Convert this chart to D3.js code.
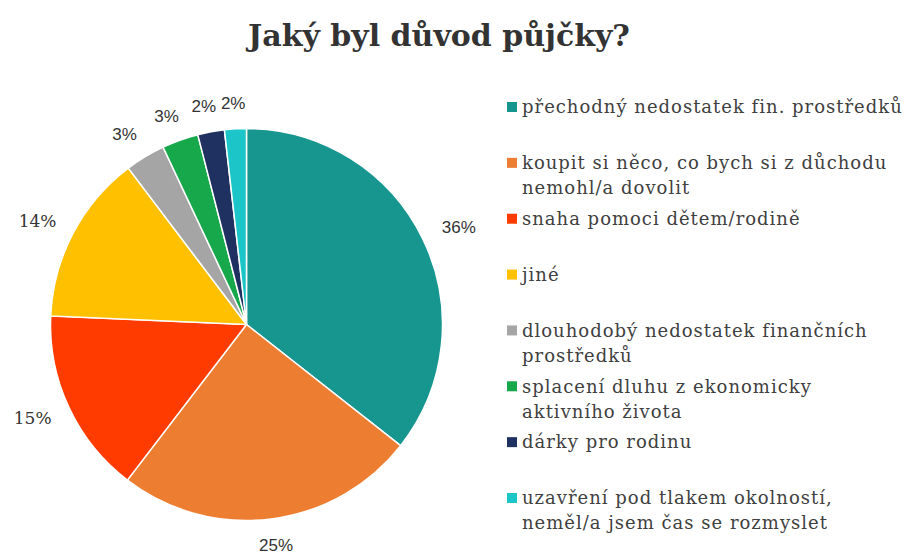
<!DOCTYPE html>
<html>
<head>
<meta charset="utf-8">
<script src="https://cdn.jsdelivr.net/npm/d3@7"></script>
<style>
  body { margin: 0; background: #fff; }
  svg { display: block; }
</style>
</head>
<body>
<svg id="chart" width="921" height="558"></svg>
<script>
// Data (share of answers, %)
const categories = [
  "přechodný nedostatek fin. prostředků",
  "koupit si něco, co bych si z důchodu nemohl/a dovolit",
  "snaha pomoci dětem/rodině",
  "jiné",
  "dlouhodobý nedostatek finančních prostředků",
  "splacení dluhu z ekonomicky aktivního života",
  "dárky pro rodinu",
  "uzavření pod tlakem okolností, neměl/a jsem čas se rozmyslet"
];
const legendLines = [
  ["přechodný nedostatek fin. prostředků"],
  ["koupit si něco, co bych si z důchodu", "nemohl/a dovolit"],
  ["snaha pomoci dětem/rodině"],
  ["jiné"],
  ["dlouhodobý nedostatek finančních", "prostředků"],
  ["splacení dluhu z ekonomicky", "aktivního života"],
  ["dárky pro rodinu"],
  ["uzavření pod tlakem okolností,", "neměl/a jsem čas se rozmyslet"]
];
const values = [35.6, 24.8, 15.3, 14.0, 3.3, 3.0, 2.2, 1.8];
const colors = ["#17958f", "#ed7d31", "#ff3b00", "#ffc000", "#a5a5a5", "#17a84b", "#1f3160", "#1cc6c8"];

const svg = d3.select("#chart");
const cx = 246.5, cy = 324.5, radius = 196;

const serif = "'DejaVu Serif', 'Liberation Serif', serif";
const sans = "'Liberation Sans', Arial, sans-serif";

// Title
svg.append("text")
  .attr("x", 439)
  .attr("y", 46)
  .attr("text-anchor", "middle")
  .attr("font-family", serif)
  .attr("font-weight", "bold")
  .attr("font-size", 30)
  .attr("fill", "#333")
  .text("Jaký byl důvod půjčky?");

const data = categories.map((c, i) => ({ category: c, value: values[i], lines: legendLines[i] }));
const color = d3.scaleOrdinal().domain(categories).range(colors);

const pie = d3.pie().sort(null).value(d => d.value);
const arcs = pie(data);
const arc = d3.arc().innerRadius(0).outerRadius(radius);

const g = svg.append("g").attr("transform", `translate(${cx},${cy})`);

g.selectAll("path.slice")
  .data(arcs)
  .join("path")
  .attr("class", "slice")
  .attr("d", arc)
  .attr("fill", d => color(d.data.category))
  .attr("stroke", "#fff")
  .attr("stroke-width", 1.5);

// Percentage labels just outside the pie
const total = d3.sum(values);
const labelRx = 236, labelRy = 222;
g.selectAll("text.pct")
  .data(arcs)
  .join("text")
  .attr("class", "pct")
  .attr("x", d => labelRx * Math.sin((d.startAngle + d.endAngle) / 2))
  .attr("y", d => -labelRy * Math.cos((d.startAngle + d.endAngle) / 2))
  .attr("dy", "0.35em")
  .attr("text-anchor", "middle")
  .attr("font-family", (d, i) => (i === 2 || i === 3) ? serif : sans)
  .attr("font-size", 17)
  .attr("fill", "#333")
  .text(d => Math.round(d.data.value / total * 100) + "%");

// Legend
const legendY = d3.scalePoint().domain(categories).range([107, 498]);
const legend = svg.selectAll("g.legend")
  .data(data)
  .join("g")
  .attr("class", "legend")
  .attr("transform", d => `translate(507,${legendY(d.category)})`);

legend.append("rect")
  .attr("x", 0)
  .attr("y", -5)
  .attr("width", 10)
  .attr("height", 10)
  .attr("fill", d => color(d.category));

legend.append("text")
  .attr("x", 15)
  .attr("y", 0)
  .attr("font-family", serif)
  .attr("font-size", 18)
  .attr("letter-spacing", 1)
  .attr("fill", "#404040")
  .selectAll("tspan")
  .data(d => d.lines)
  .join("tspan")
  .attr("x", 15)
  .attr("y", (d, i) => i * 25)
  .attr("dy", "0.35em")
  .text(d => d);
</script>
</body>
</html>
